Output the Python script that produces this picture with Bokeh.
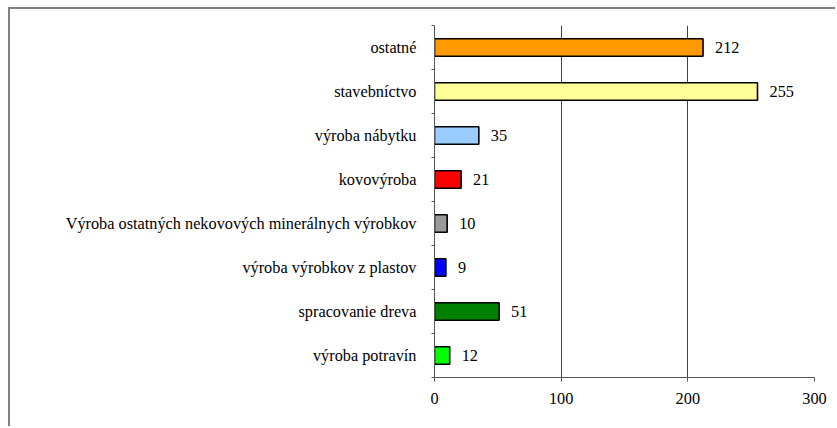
from bokeh.plotting import figure
from bokeh.models import ColumnDataSource, FixedTicker, Range1d
from bokeh.core.properties import value
from bokeh.embed import file_html
from bokeh.resources import INLINE

categories = ["výroba potravín", "spracovanie dreva", "výroba výrobkov z plastov",
              "Výroba ostatných nekovových minerálnych výrobkov", "kovovýroba",
              "výroba nábytku", "stavebníctvo", "ostatné"]
values = [12, 51, 9, 10, 21, 35, 255, 212]
colors = ["#00FF00", "#008000", "#0000FF", "#999999", "#FF0000",
          "#99CCFF", "#FFFF99", "#FF9900"]
x_ticks = [0, 100, 200, 300]

idx = list(range(len(categories)))
src = ColumnDataSource(dict(y=idx, v=values, c=colors,
                            t=[str(v) for v in values]))

FONT = "Liberation Serif"
FSIZE = "16.3px"

p = figure(width=827, height=419, output_backend="svg", toolbar_location=None,
           x_range=Range1d(0, 300), y_range=Range1d(-0.5, len(categories) - 0.5),
           min_border_left=424, min_border_right=23, min_border_top=16,
           min_border_bottom=51,
           styles={"margin-left": "8px", "margin-top": "7px",
                   "border-left": "2px solid #808080", "border-top": "2px solid #808080"})
p.outline_line_color = None
p.background_fill_color = "white"
p.border_fill_color = "white"

p.hbar(y="y", right="v", left=0, height=0.4, fill_color="c",
       line_color="black", line_width=1.6, source=src)
p.text(x="v", y="y", text="t", source=src, x_offset=12,
       text_baseline="middle", text_align="left",
       text_font=value(FONT), text_font_size=FSIZE, text_color="black")

# x axis
p.xaxis.ticker = FixedTicker(ticks=x_ticks)
p.xaxis.minor_tick_line_color = None
p.xaxis.major_tick_out = 4
p.xaxis.major_tick_in = 0
p.xaxis.axis_line_color = "#555555"
p.xaxis.major_tick_line_color = "#555555"
p.xaxis.major_label_text_font = FONT
p.xaxis.major_label_text_font_size = FSIZE
p.xaxis.major_label_text_color = "black"
p.xaxis.major_label_standoff = 11

# y axis with ticks on category boundaries
p.yaxis.ticker = FixedTicker(ticks=idx,
                             minor_ticks=[i - 0.5 for i in range(len(categories) + 1)])
p.yaxis.major_label_overrides = {i: c for i, c in enumerate(categories)}
p.yaxis.major_tick_line_color = None
p.yaxis.major_tick_out = 0
p.yaxis.major_tick_in = 0
p.yaxis.minor_tick_out = 3
p.yaxis.minor_tick_in = 0
p.yaxis.minor_tick_line_color = "#555555"
p.yaxis.axis_line_color = "#555555"
p.yaxis.major_label_text_font = FONT
p.yaxis.major_label_text_font_size = FSIZE
p.yaxis.major_label_text_color = "black"
p.yaxis.major_label_standoff = 15

p.xgrid.ticker = FixedTicker(ticks=[100, 200, 300])
p.xgrid.grid_line_color = "#444444"
p.xgrid.grid_line_width = 1
p.ygrid.grid_line_color = None

open("out.html", "w").write(file_html(p, INLINE))
